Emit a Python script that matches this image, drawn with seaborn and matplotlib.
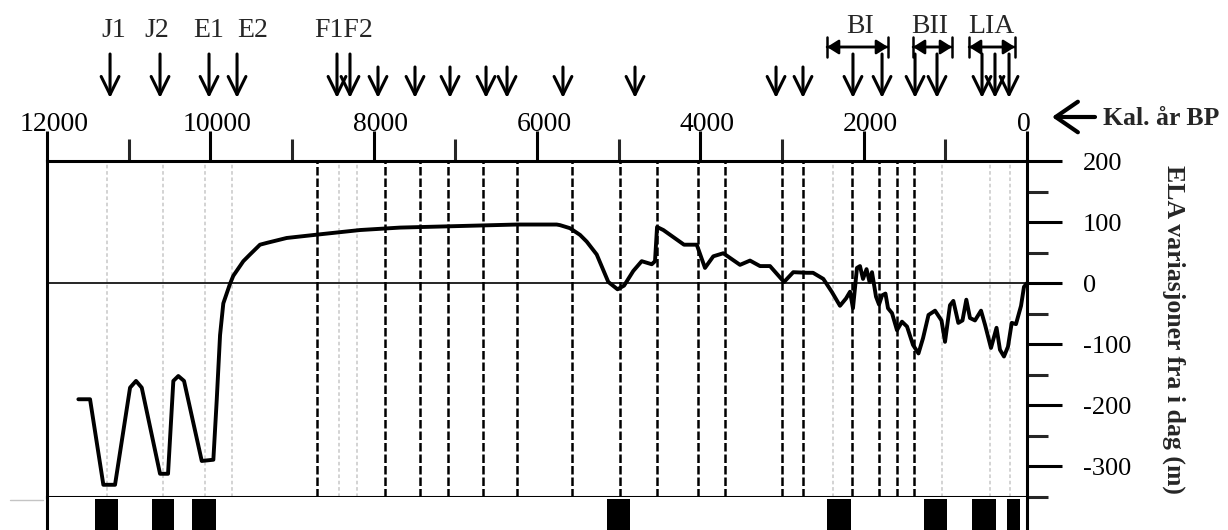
import matplotlib
matplotlib.use("Agg")
import matplotlib.pyplot as plt
from matplotlib.lines import Line2D
from matplotlib.transforms import ScaledTranslation
import seaborn as sns
import pandas as pd

# ELA curve (calendar years BP, metres relative to present)
years = [11616, 11473, 11310, 11167, 10983, 10910, 10840, 10616, 10518, 10453, 10392,
         10322, 10105, 9963, 9922, 9881, 9841, 9759, 9719, 9596, 9514, 9392, 9307, 9065,
         8657, 8167, 7677, 6248, 5759, 5718, 5596, 5473, 5391, 5269, 5127, 5014, 4934,
         4821, 4718, 4595, 4555, 4530, 4453, 4200, 4044, 3943, 3841, 3719, 3514, 3392,
         3269, 3147, 2975, 2862, 2698, 2620, 2494, 2391, 2290, 2216, 2167, 2131, 2082,
         2045, 2008, 1965, 1928, 1898, 1849, 1812, 1775, 1733, 1702, 1653, 1592, 1531,
         1469, 1396, 1329, 1273, 1206, 1126, 1047, 1004, 943, 902, 841, 790, 743, 698,
         637, 563, 514, 441, 373, 331, 282, 233, 187, 135, 73, 37, 0]
ela = [-190, -190, -330, -330, -171, -160, -171, -312, -312, -160, -152,
       -160, -291, -289, -192, -85, -33, -1, 12, 36, 47, 63, 66, 74,
       80, 87, 91, 96, 96, 95, 90, 79, 68, 47, 2, -10, -4,
       20, 36, 31, 36, 92, 87, 63, 63, 25, 44, 49, 30, 37,
       28, 28, 2, 18, 17, 17, 7, -14, -37, -25, -14, -41, 25,
       28, 7, 23, 2, 18, -22, -35, -20, -17, -41, -49, -77, -63,
       -71, -101, -115, -90, -52, -45, -61, -96, -36, -29, -65, -61, -27, -57,
       -61, -45, -68, -106, -73, -109, -120, -104, -65, -67, -37, -6, 0]

# Dated glacier events (arrows above the time axis)
event_labels = ["J1", "J2", "E1", "E2", "F1F2", "BI", "BII", "LIA"]
event_label_years = [11179, 10653, 10016, 9477, 8363, 2045, 1188, 441]
long_arrow_years = [11228, 10616, 10016, 9673, 8449, 8290, 2131, 1775, 1371, 1102, 551, 392, 220]
short_arrow_years = [7947, 7494, 7065, 6624, 6367, 5682, 4800, 3073, 2743]
period_spans = [(2449, 1702), (1396, 918), (710, 147)]

# Vertical reference lines
dashed_years = [8694, 7861, 7432, 7090, 6661, 6245, 5571, 4983, 4530, 4028, 3698,
                3000, 2743, 2143, 1812, 1592, 1384]
faint_years = [11265, 10579, 10065, 9734, 8419, 8204, 2375, 1041, 453, 208]

# Black blocks in the strip below the curve
block_spans = [(11412, 11130), (10714, 10445), (10224, 9930), (5143, 4861),
               (2449, 2155), (1261, 980), (673, 380), (245, 86)]

x_major = [12000, 10000, 8000, 6000, 4000, 2000, 0]
x_minor = [11000, 9000, 7000, 5000, 3000, 1000]
y_major = [200, 100, 0, -100, -200, -300]
y_minor = [150, 50, -50, -150, -250, -350]

sns.set_style("white")
plt.rcParams["font.family"] = ["Liberation Serif", "DejaVu Serif"]
plt.rcParams["axes.unicode_minus"] = False

W, H = 1228, 530
fig = plt.figure(figsize=(W / 100, H / 100), dpi=100)
ax = fig.add_axes([47 / W, 1 - 497 / H, 980 / W, 336 / H])
strip = fig.add_axes([47 / W, 1 - 545 / H, 980 / W, 48 / H], sharex=ax)

df = pd.DataFrame({"year": years, "ela": ela})
for yr in faint_years:
    ax.axvline(yr, color="#d0d0d0", lw=1.3, ls=(0, (2, 1.5)), zorder=1)
for yr in dashed_years:
    ax.axvline(yr, color="black", lw=1.8, ls=(0, (3.4, 1.2)), zorder=2)
ax.axhline(0, color="black", lw=1.2, zorder=2)
sns.lineplot(data=df, x="year", y="ela", ax=ax, color="black", lw=2.8,
             sort=False, zorder=3)

ax.set_xlim(12000, 0)
ax.set_ylim(-350, 200)
ax.set_xlabel("")
ax.set_ylabel("")

# Time axis on top
ax.xaxis.tick_top()
ax.set_xticks(x_major)
ax.set_xticks(x_minor, minor=True)
ax.set_xticklabels([str(v) for v in x_major])
ax.tick_params(axis="x", which="major", direction="out", length=21.5, width=2.2,
               pad=-4, labelsize=20, top=True, bottom=False, colors="black")
ax.tick_params(axis="x", which="minor", direction="out", length=15.5, width=2.2,
               top=True, bottom=False)
for tick, val in zip(ax.xaxis.get_major_ticks(), x_major):
    dx = -3 if val == 0 else 7
    tick.label2.set_transform(tick.label2.get_transform()
                              + ScaledTranslation(dx / 100, 0, fig.dpi_scale_trans))

# ELA axis on the right
ax.yaxis.tick_right()
ax.set_yticks(y_major)
ax.set_yticks(y_minor, minor=True)
ax.set_yticklabels([str(v) for v in y_major])
ax.tick_params(axis="y", which="major", direction="out", length=25, width=2.2,
               pad=15, labelsize=19, left=False, right=True, colors="black")
ax.tick_params(axis="y", which="minor", direction="out", length=15, width=2.2,
               left=False, right=True)
ax.yaxis.set_label_position("right")
ax.set_ylabel("ELA variasjoner fra i dag (m)", rotation=-90, fontsize=18.5,
              fontweight="bold")
ax.yaxis.set_label_coords(1.150, 0.5)
ax.yaxis.label.set_va("center")

for side in ["top", "bottom", "left", "right"]:
    ax.spines[side].set_visible(True)
    ax.spines[side].set_color("black")
    ax.spines[side].set_linewidth(2.2)

# Strip with black blocks
for a, b in block_spans:
    strip.axvspan(a, b, ymin=0, ymax=0.96, color="black", lw=0)
strip.set_ylim(0, 1)
strip.set_yticks([])
strip.tick_params(axis="x", which="both", bottom=False, top=False,
                  labelbottom=False, labeltop=False)
for side in ["top", "bottom"]:
    strip.spines[side].set_visible(False)
for side in ["left", "right"]:
    strip.spines[side].set_visible(True)
    strip.spines[side].set_color("black")
    strip.spines[side].set_linewidth(2.2)
strip.set_facecolor("white")

# Event arrows and labels above the axis
xt = ax.get_xaxis_transform()
tip = 1 + (161 - 98) / 336
arrow_kw = dict(arrowstyle="->,head_length=0.65,head_width=0.32",
                mutation_scale=20, lw=2.2, color="black", shrinkA=0, shrinkB=0)
for yr in long_arrow_years:
    ax.annotate("", xy=(yr, tip), xytext=(yr, 1 + (161 - 54) / 336),
                xycoords=xt, textcoords=xt, annotation_clip=False,
                arrowprops=arrow_kw)
for yr in short_arrow_years:
    ax.annotate("", xy=(yr, tip), xytext=(yr, 1 + (161 - 67) / 336),
                xycoords=xt, textcoords=xt, annotation_clip=False,
                arrowprops=arrow_kw)
for lab, yr in zip(event_labels, event_label_years):
    yb = 1.381 if lab in ("BI", "BII", "LIA") else 1.369
    ax.text(yr, yb, lab, transform=xt, ha="center", va="baseline", fontsize=20,
            clip_on=False)
yb = 1 + (161 - 47) / 336
for a, b in period_spans:
    for style in ("<|-|>,head_length=0.35,head_width=0.22", "|-|,widthA=0.35,widthB=0.35"):
        ax.annotate("", xy=(b, yb), xytext=(a, yb), xycoords=xt, textcoords=xt,
                    annotation_clip=False,
                    arrowprops=dict(arrowstyle=style, mutation_scale=20, lw=1.8,
                                    color="black", shrinkA=0, shrinkB=0))

# Axis caption for the time scale
ya = 1 + (161 - 117) / 336
ax.annotate("", xy=(1.0255, ya), xytext=(1.0694, ya), xycoords="axes fraction",
            textcoords="axes fraction", annotation_clip=False,
            arrowprops=dict(arrowstyle="->,head_length=0.8,head_width=0.55",
                            mutation_scale=20, lw=3.0, color="black",
                            shrinkA=0, shrinkB=0))
ax.text(1.0776, 1 + (161 - 125) / 336, "Kal. år BP", transform=ax.transAxes,
        ha="left", va="baseline", fontsize=18.5, fontweight="bold", clip_on=False)

fig.add_artist(Line2D([10 / W, 43 / W], [1 - 500 / H] * 2, color="#c4c4c4", lw=1))

fig.savefig("out.png", dpi=100, facecolor="white")
